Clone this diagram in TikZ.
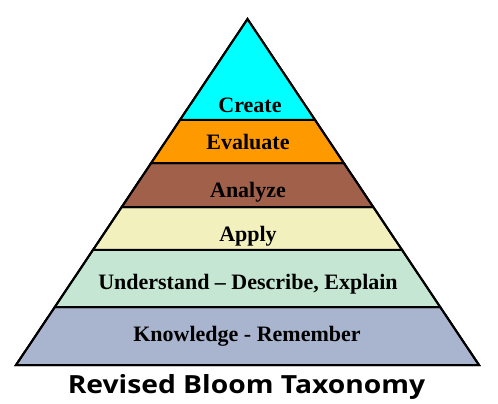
\documentclass[tikz,border=0pt]{standalone}
\usepackage{fontspec}
\setmainfont{Liberation Serif}
\newfontfamily\titlefont{Open Sans}
\usetikzlibrary{calc}
\definecolor{cCreate}{HTML}{00FFFF}
\definecolor{cEval}{HTML}{FF9900}
\definecolor{cAnal}{HTML}{A0604A}
\definecolor{cApply}{HTML}{F2F0BC}
\definecolor{cUnder}{HTML}{C4E6D2}
\definecolor{cKnow}{HTML}{A9B5CE}
\tikzset{
  band/.style={draw=black, line width=2pt, line join=miter},
  lbl/.style={anchor=base, font=\bfseries\fontsize{22}{24}\selectfont, inner sep=0pt},
  ttl/.style={anchor=base, font=\titlefont\bfseries\fontsize{25}{27}\selectfont, inner sep=0pt}
}
\begin{document}
\begin{tikzpicture}[x=1pt,y=-1pt]
\useasboundingbox (0,0) rectangle (498,404);
\fill[white] (0,0) rectangle (498,404);
\coordinate (apex) at (247.5,19);
\coordinate (bl) at (16,365);
\coordinate (br) at (479,365);
\foreach \n/\t in {a/0.2919,b/0.4162,c/0.5434,d/0.6676,e/0.8324}{
  \coordinate (L\n) at ($(apex)!\t!(bl)$);
  \coordinate (R\n) at ($(apex)!\t!(br)$);
}
\filldraw[band, fill=cKnow] (Le) -- (Re) -- (br) -- (bl) -- cycle;
\filldraw[band, fill=cUnder] (Ld) -- (Rd) -- (Re) -- (Le) -- cycle;
\filldraw[band, fill=cApply] (Lc) -- (Rc) -- (Rd) -- (Ld) -- cycle;
\filldraw[band, fill=cAnal] (Lb) -- (Rb) -- (Rc) -- (Lc) -- cycle;
\filldraw[band, fill=cEval] (La) -- (Ra) -- (Rb) -- (Lb) -- cycle;
\filldraw[band, fill=cCreate] (apex) -- (Ra) -- (La) -- cycle;
\draw[band] (apex) -- (br) -- (bl) -- cycle;
\node[lbl] (create) at (250,112) {Create};
\node[lbl] (evaluate) at (248,149) {Evaluate};
\node[lbl] (analyze) at (248,197) {Analyze};
\node[lbl] (apply) at (248,241) {Apply};
\node[lbl] (understand) at (248,289) {Understand -- Describe, Explain};
\node[lbl] (knowledge) at (247,341) {Knowledge - Remember};
\node[ttl] (title) at (246.5,393) {\scalebox{1.13}[1]{Revised Bloom Taxonomy}};
\end{tikzpicture}
\end{document}
